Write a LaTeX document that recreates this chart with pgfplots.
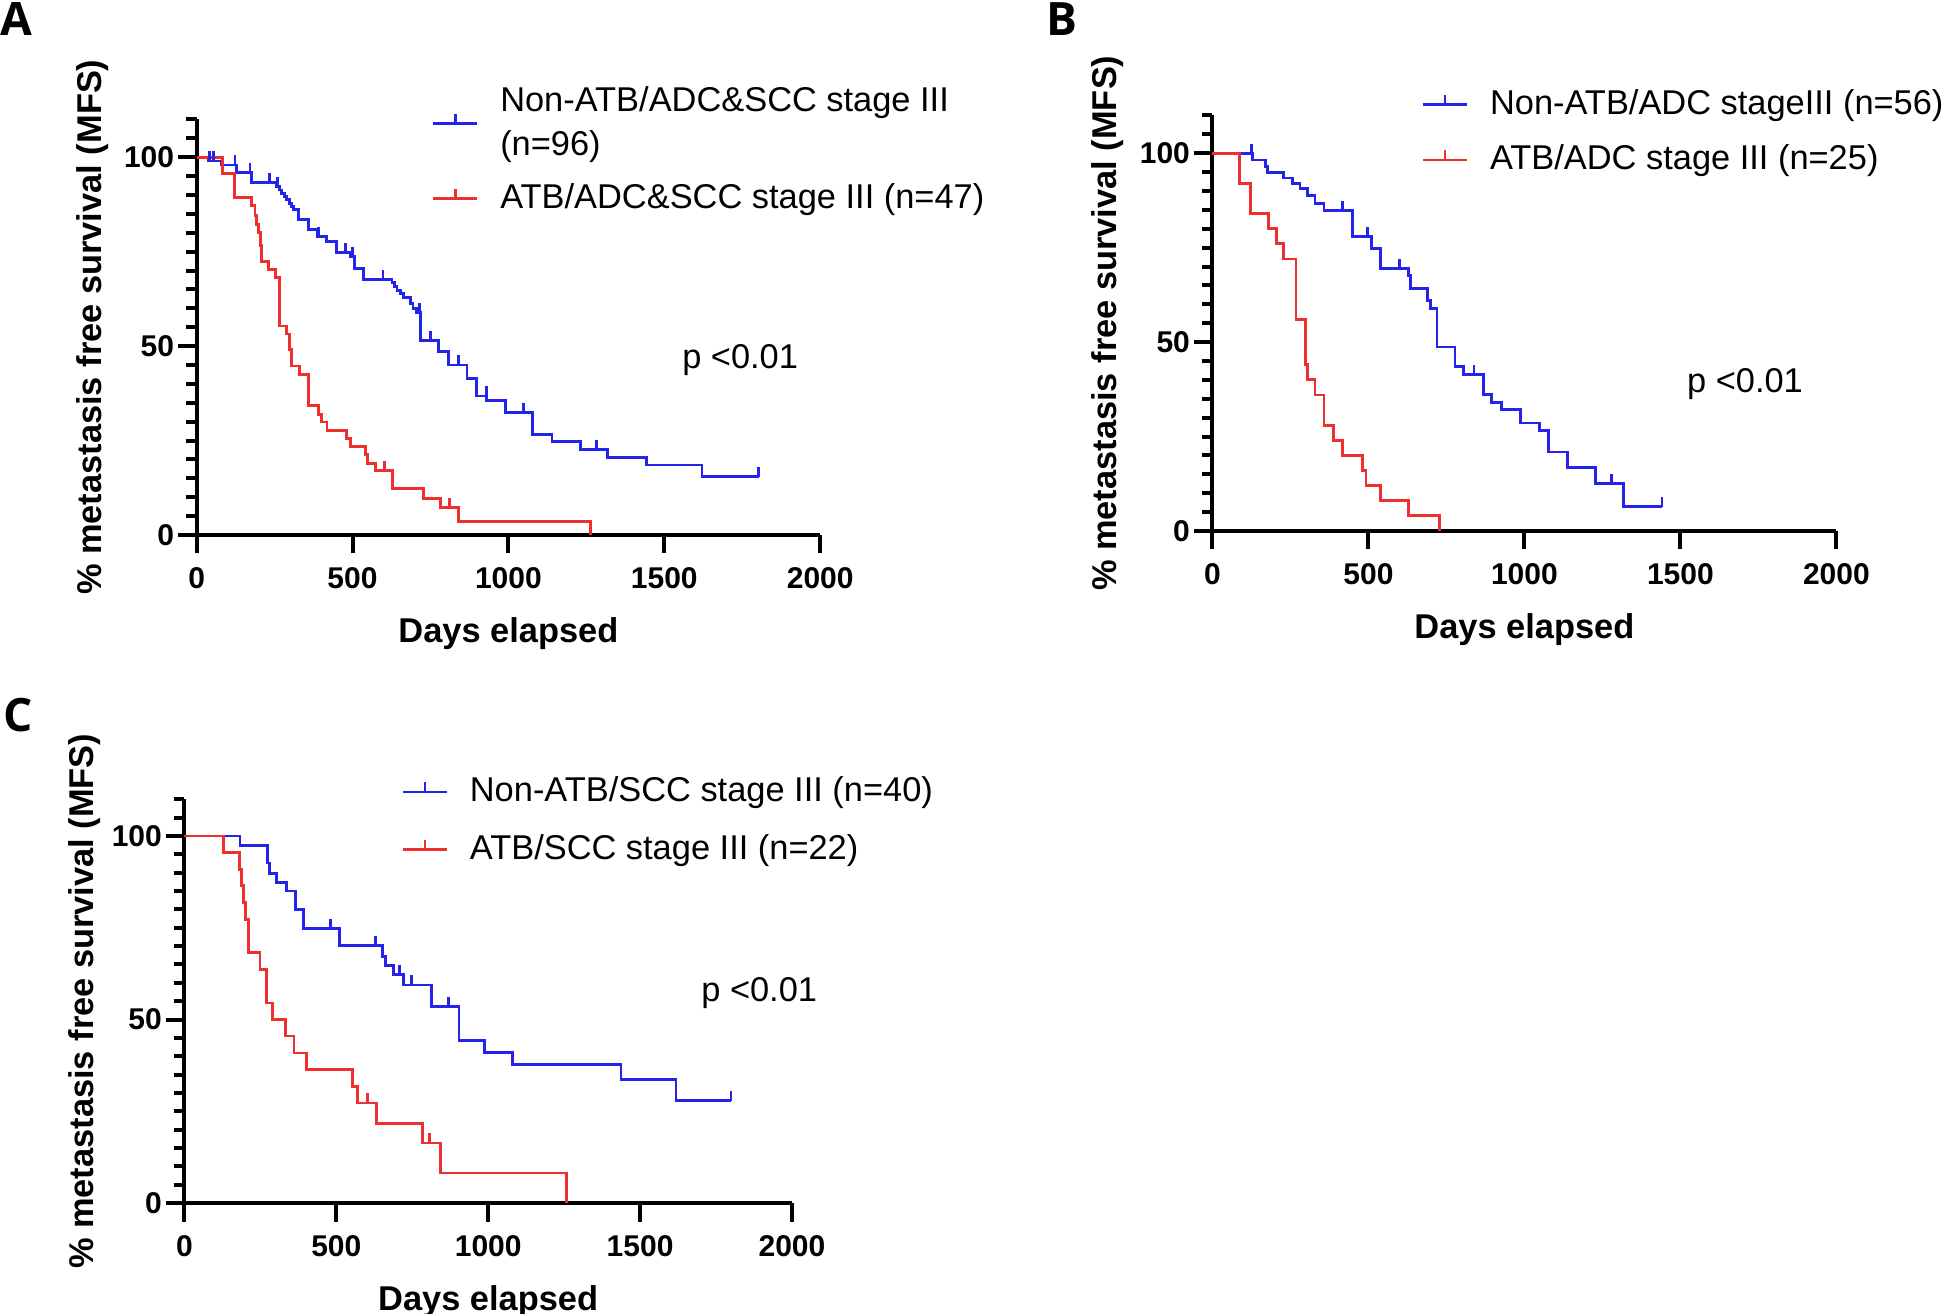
\documentclass[border=0pt]{standalone}
\usepackage{fontspec}
\setmainfont{Liberation Sans}
\newfontfamily\letterfont{Open Sans}
\usepackage{pgfplots}
\pgfplotsset{compat=1.18}
\definecolor{kmblue}{RGB}{35,35,235}
\definecolor{kmred}{RGB}{238,45,45}
\pgfdeclareplotmark{utick}{\pgfpathmoveto{\pgfpointorigin}\pgfpathlineto{\pgfpoint{0pt}{2.4pt}}\pgfusepathqstroke}
\pgfplotsset{
  km/.style={
    scale only axis,
    xmin=0, xmax=2000, ymin=0, ymax=110,
    axis x line*=bottom, axis y line*=left,
    axis line style={line width=1pt},
    xtick={0,500,1000,1500,2000}, ytick={0,50,100},
    minor ytick={5,10,...,110},
    tick align=outside, major tick length=4.6pt, minor tick length=2.7pt,
    tick style={black, line width=1pt},
    tick label style={font=\fontsize{7.5}{9}\selectfont\bfseries},
    yticklabel style={xshift=2.5pt},
    /pgf/number format/assume math mode=true,
    /pgf/number format/1000 sep={},
    xlabel={Days elapsed},
    ylabel={\% metastasis free survival (MFS)},
    label style={font=\fontsize{8.6}{10}\selectfont\bfseries},
    xlabel style={at={(axis description cs:0.5,0)}, anchor=north, yshift=-20.5pt, inner sep=0pt},
    clip=false,
    legend cell align=left,
    legend style={draw=none, fill=none, font=\fontsize{8.6}{10.9}\selectfont,
      inner sep=0pt, row sep=1.5pt, column sep=3.4pt, cells={align=left}, anchor=north west},
    legend image code/.code={
      \draw[line width=0.7pt] (0pt,0pt) -- (11pt,0pt);
      \draw[line width=0.7pt] (5.5pt,0pt) -- (5.5pt,2.4pt);},
  },
  kmline/.style={line width=0.7pt, const plot, mark=none},
  kmcens/.style={only marks, mark=utick, mark options={line width=0.7pt}, forget plot},
}
\begin{document}
\begin{tikzpicture}
\useasboundingbox (0,0) rectangle (486.25pt,328.5pt);
% panel letters
\node[anchor=base west, inner sep=0pt, font=\letterfont\fontsize{11.5}{14}\selectfont\bfseries] at (0pt,319.6pt) {A};
\node[anchor=base west, inner sep=0pt, font=\letterfont\fontsize{11.5}{14}\selectfont\bfseries] at (261.5pt,319.6pt) {B};
\node[anchor=base west, inner sep=0pt, font=\letterfont\fontsize{11.5}{14}\selectfont\bfseries] at (0.75pt,145.5pt) {C};

% ---------------- Panel A ----------------
\begin{axis}[km, at={(49.15pt,194.75pt)}, anchor=south west, width=155.9pt, height=103.9pt,
  ylabel style={at={([xshift=-23.9pt]axis description cs:0,0.5)}, anchor=base},
  legend style={at={(axis description cs:0.376,1.1)}}]
\addplot[kmblue, kmline] coordinates {
(0,100)(37,99.0)(80,97.9)(128,95.9)(177,93.3)(255,92.2)(265.5,91.3)(273,90.4)(281.6,89.5)
(289,88.7)(297.6,87.8)(305,86.9)(310.5,86.1)(326.6,83.6)(358.7,80.9)(388.7,79.0)(417.6,77.7)
(449.7,74.8)(492.5,73.7)(506.4,70.6)(535.4,67.7)(626.4,66.8)(634,65.8)(642.4,64.8)(653,63.9)
(663.8,62.9)(685.2,61.3)(693.8,60.0)(704.5,58.9)(717.4,51.4)(776.3,48.5)(808.4,45.0)(867.3,41.5)
(897,36.8)(929,35.7)(990,32.4)(1078,26.7)(1140,24.7)(1230,22.7)(1318,20.6)(1442,18.5)(1621,15.4)(1803,15.4)};
\addlegendentry{Non-ATB/ADC\&SCC stage III\\(n=96)}
\addplot[kmred, kmline] coordinates {
(0,100)(83.5,95.7)(121,89.4)(177,87.2)(187,84.5)(193,82.2)(198,80.0)(206,76.6)(209,72.4)
(230,70.2)(252,68.1)(266,55.3)(289,53.2)(298,49.0)(305,44.7)(330,42.5)(359,34.2)(391,31.9)
(401,29.9)(418,27.6)(482,25.6)(493,23.4)(541,21.2)(548,19.0)(573,17.0)(628,12.2)(728,9.7)
(782,7.2)(840,3.6)(1262,0)};
\addlegendentry{ATB/ADC\&SCC stage III (n=47)}
\addplot[kmblue, kmcens] coordinates {
(41,99.0)(53.5,99.0)(123,97.9)(171,95.9)(233,93.3)(259,92.2)(391,79.0)(476.5,74.8)(500,73.7)
(597.5,67.7)(715,58.9)(749.5,51.4)(840.5,45.0)(929,36.8)(1049,32.4)(1282,22.7)(1803,15.4)};
\addplot[kmred, kmcens] coordinates {(602,17.0)(812,7.2)(1262,0)};
\node[anchor=base west, inner sep=0pt, font=\fontsize{8.6}{10}\selectfont] at (axis cs:1555,44) {p <0.01};
\end{axis}

% ---------------- Panel B ----------------
\begin{axis}[km, at={(303.1pt,195.75pt)}, anchor=south west, width=156pt, height=103.9pt,
  ylabel style={at={([xshift=-24.1pt]axis description cs:0,0.5)}, anchor=base},
  legend style={at={(axis description cs:0.334,1.084)}, row sep=2.1pt}]
\addplot[kmblue, kmline] coordinates {
(0,100)(128.5,98.2)(170,96.5)(177,94.9)(229,93.4)(257,92.0)(280.5,90.7)(304,88.9)(329,86.7)
(357.6,84.8)(449.7,77.9)(510.7,74.8)(537.5,69.5)(628.5,67.7)(636,64.2)(690.6,61.1)(698,58.8)
(719.5,48.7)(777.5,43.6)(806,41.4)(868.5,36.1)(895,34.1)(927,32.2)(988,28.6)(1048,26.7)
(1077,20.9)(1138,16.7)(1229,12.6)(1318,6.4)(1441,6.4)};
\addlegendentry{Non-ATB/ADC stageIII (n=56)}
\addplot[kmred, kmline] coordinates {
(0,100)(85.7,92)(123,84)(179,80)(205.6,76)(229,72)(267.7,56)(298,44)(304,40)(328.7,36)
(357.6,28)(387.6,24)(417.6,20)(480.7,16)(492.5,12)(537.5,8)(628.5,4)(728,0)};
\addlegendentry{ATB/ADC stage III (n=25)}
\addplot[kmblue, kmcens] coordinates {
(125,100)(417.6,84.8)(498,77.9)(598.5,69.5)(838.5,41.4)(1280,12.6)(1441,6.4)};
\addplot[kmred, kmcens] coordinates {(728,0)};
\node[anchor=base west, inner sep=0pt, font=\fontsize{8.6}{10}\selectfont] at (axis cs:1519,36.7) {p <0.01};
\end{axis}

% ---------------- Panel C ----------------
\begin{axis}[km, at={(46.1pt,27.7pt)}, anchor=south west, width=151.9pt, height=101pt,
  ylabel style={at={([xshift=-22.6pt]axis description cs:0,0.5)}, anchor=base},
  legend style={at={(axis description cs:0.356,1.078)}, row sep=2.75pt}]
\addplot[kmblue, kmline] coordinates {
(0,100)(182.8,97.5)(273,92.6)(280,89.8)(304,87.3)(335,85.0)(364.5,80.0)(392,74.9)(511,70.1)
(651,67.2)(662,64.7)(689,62.2)(720,59.4)(813,53.5)(904,44.3)(988,41.0)(1079,37.7)(1437,33.6)
(1618,27.9)(1799,27.9)};
\addlegendentry{Non-ATB/SCC stage III (n=40)}
\addplot[kmred, kmline] coordinates {
(0,100)(127.8,95.5)(180.6,90.9)(188,86.4)(193.8,81.8)(201,77.3)(210,68.2)(249,63.6)(271,54.5)
(290,50)(332.6,45.5)(361,40.9)(401,36.4)(553,31.8)(570.5,27.3)(632,21.8)(783,16.4)(843.6,8.2)(1258.7,0)};
\addlegendentry{ATB/SCC stage III (n=22)}
\addplot[kmblue, kmcens] coordinates {(482,74.9)(630,70.1)(707,62.2)(748,59.4)(870,53.5)(1799,27.9)};
\addplot[kmred, kmcens] coordinates {(603.5,27.3)(808,16.4)(1258.7,0)};
\node[anchor=base west, inner sep=0pt, font=\fontsize{8.6}{10}\selectfont] at (axis cs:1699,54.9) {p <0.01};
\end{axis}
\end{tikzpicture}
\end{document}
